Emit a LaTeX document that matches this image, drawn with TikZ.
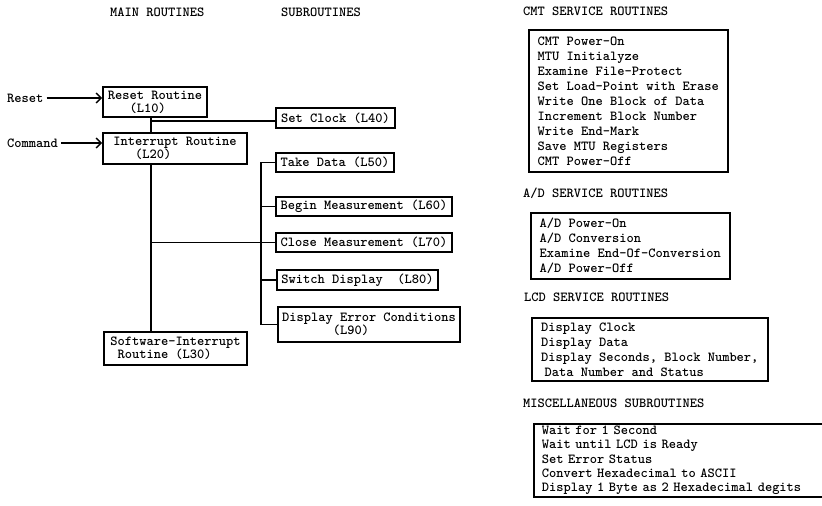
\documentclass[tikz,border=0pt]{standalone}
\usepackage{fontspec}
\usepackage{tikz}
\usetikzlibrary{arrows.meta}
\newcommand{\typ}{\fontsize{13.8}{15}\selectfont\ttfamily\bfseries}
\newcommand{\typmain}{\fontsize{13.8}{13}\selectfont\ttfamily\bfseries}
\tikzset{
  head/.style={anchor=west,inner sep=0pt,font=\typ},
  mainbox/.style={rectangle,draw=black,line width=1.6pt,inner sep=0pt,align=left,font=\typmain},
  subbox/.style={rectangle,draw=black,line width=1.6pt,inner sep=0pt,align=left,font=\typmain},
  listbox/.style={rectangle,draw=black,line width=1.6pt,inner sep=0pt,align=left,anchor=north west,font=\typ},
  link/.style={line width=1.4pt,black},
  arr/.style={-{Straight Barb[length=5pt,width=10pt]},line width=1.4pt,black,shorten <=3pt},
}
\begin{document}
\begin{tikzpicture}[x=1pt,y=-1pt]
  \useasboundingbox (0,0) rectangle (822,506);
  % column headings
  \node[head] (mainhd) at (110,12.5) {MAIN ROUTINES};
  \node[head] (subhd) at (281,12.5) {SUBROUTINES};
  % main routines
  \node[mainbox,minimum width=104,minimum height=30] (reset) at (155,102) {Reset Routine\\\phantom{xxx}(L10)};
  \node[mainbox,minimum width=144,minimum height=31] (interrupt) at (175,148.5) {Interrupt Routine\\\phantom{xxx}(L20)};
  \node[mainbox,minimum width=143,minimum height=33] (softint) at (175.5,348.5) {Software-Interrupt\\\phantom{x}Routine (L30)};
  \node[head] (rstin) at (7,98) {Reset};
  \node[head] (cmdin) at (7,143) {Command};
  \draw[arr] (rstin.east) -- (rstin.east -| reset.west);
  \draw[arr] (cmdin.east) -- (cmdin.east -| interrupt.west);
  % subroutines
  \node[subbox,minimum width=119,minimum height=20] (clock) at (335.5,118) {Set Clock (L40)};
  \node[subbox,minimum width=118,minimum height=19] (take) at (335,162.5) {Take Data (L50)};
  \node[subbox,minimum width=176,minimum height=19] (begin) at (364,206.5) {Begin Measurement (L60)};
  \node[subbox,minimum width=176,minimum height=19] (close) at (364,242.5) {Close Measurement (L70)};
  \node[subbox,minimum width=161,minimum height=20] (switch) at (357.5,280) {Switch Display\ \ (L80)};
  \node[subbox,minimum width=182,minimum height=35] (diserr) at (369,324.5) {Display Error Conditions\\\phantom{xxxxxxx}(L90)};
  \coordinate (trunk) at (151,0);
  \coordinate (subtrunk) at (261,0);
  \coordinate (jclock) at (151,121);
  \draw[link] (trunk |- reset.south) -- (trunk |- interrupt.north);
  \draw[link] (trunk |- interrupt.south) -- (trunk |- softint.north);
  \draw[link] (jclock) -- (jclock -| clock.west);
  \draw[link] (trunk |- close.west) -- (close.west);
  \draw[link] (take.west) -- (subtrunk |- take.west) -- (subtrunk |- diserr.west) -- (diserr.west);
  \foreach \s in {begin,switch}
    \draw[link] (subtrunk |- \s.west) -- (\s.west);
  % service routines
  \node[head] (cmthd) at (523,11) {CMT SERVICE ROUTINES};
  \node[listbox,minimum width=199,minimum height=142] (cmt) at (528,29)
    {CMT Power-On\\MTU Initialyze\\Examine File-Protect\\Set Load-Point with Erase\\Write One Block of Data\\Increment Block Number\\Write End-Mark\\Save MTU Registers\\CMT Power-Off};
  \node[head] (adhd) at (523,193) {A/D SERVICE ROUTINES};
  \node[listbox,minimum width=199,minimum height=66,font=\fontsize{13.8}{14.7}\selectfont\ttfamily\bfseries] (ad) at (530,212)
    {A/D Power-On\\A/D Conversion\\Examine End-Of-Conversion\\A/D Power-Off};
  \node[head] (lcdhd) at (524,297) {LCD SERVICE ROUTINES};
  \node[listbox,minimum width=236,minimum height=63] (lcd) at (531,317)
    {Display Clock\\Display Data\\Display Seconds, Block Number,\\\hspace*{0.25em}Data Number and Status};
  \node[head] (mischd) at (523,403) {MISCELLANEOUS SUBROUTINES};
  \node[listbox,text width=282,inner xsep=8pt,minimum height=73,font=\fontsize{13.8}{14.3}\selectfont\ttfamily\bfseries] (misc) at (533,423)
    {Wait for 1 Second\\Wait until LCD is Ready\\Set Error Status\\Convert Hexadecimal to ASCII\\Display 1 Byte as 2 Hexadecimal degits};
\end{tikzpicture}
\end{document}
